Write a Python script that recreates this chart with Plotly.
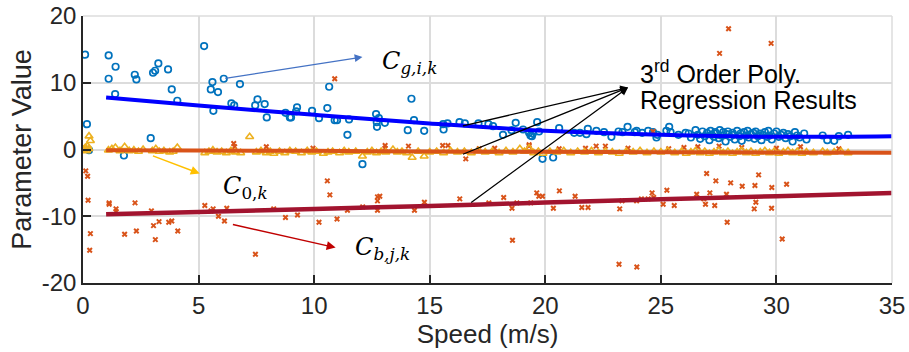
import plotly.graph_objects as go

# ---- C_g,i,k (blue circles) ----
g_x_a = [0.09, 0.17, 0.26, 1.11, 1.11, 1.41, 1.39, 2.24, 2.31, 3.26,
         3.03, 3.12, 3.68, 3.84, 4.08, 2.93, 1.77, 5.24, 6.09, 5.60,
         5.53, 5.84, 6.79, 5.64, 6.42, 6.54, 7.55, 7.45, 7.86, 7.95,
         8.76, 8.95, 9.00, 9.26, 9.22, 9.91, 10.21, 10.57, 10.65, 10.89,
         10.99, 11.51, 11.44, 12.68, 12.80, 12.71, 12.72, 13.06, 14.21, 14.32,
         14.05, 14.76, 12.09, 15.58, 15.77, 15.60, 16.29, 16.52, 17.11, 17.54,
         17.74, 18.17, 18.72, 18.54, 19.04, 19.30, 19.36, 19.42, 19.46, 19.65,
         19.73, 19.88, 20.34, 20.60, 21.25, 21.50, 21.78, 21.84, 22.21, 22.54,
         22.86, 23.17, 23.34, 23.56, 23.87, 23.95, 24.19, 24.45, 24.66, 24.81,
         24.85, 25.24, 25.36, 25.42, 25.76, 26.07]
g_y_a = [14.2, 3.8, -0.1, 14.1, 10.6, 12.4, 8.3, 11.2, 10.5, 12.9,
         11.5, 11.8, 12.0, 9.0, 7.3, 1.7, -0.9, 15.5, 10.6, 10.1,
         9.0, 8.6, 9.8, 5.8, 6.9, 6.6, 7.5, 6.6, 6.8, 4.8,
         5.5, 4.8, 4.8, 6.3, 5.7, 5.8, 4.7, 6.2, 9.4, 4.4,
         4.4, 4.5, 2.2, 5.3, 4.7, 4.1, 3.4, 4.0, 7.6, 4.4,
         2.9, 2.8, -2.2, 3.8, 3.9, 3.0, 4.1, 3.9, 3.9, 3.8,
         3.5, 2.2, 4.0, 2.9, 3.0, 2.5, 2.1, 2.0, 2.4, 4.1,
         2.7, -1.4, -1.2, 3.2, 2.5, 2.5, 2.3, 3.1, 2.8, 2.6,
         1.9, 2.7, 2.6, 3.4, 2.6, 2.8, 2.5, 2.8, 2.6, 1.8,
         2.2, 2.8, 3.4, 2.6, 2.2, 2.5]
g_x_b = [26.2, 26.3, 26.5, 26.6, 26.7, 26.8, 26.9, 27.0, 27.1, 27.15,
         27.2, 27.3, 27.35, 27.4, 27.5, 27.55, 27.6, 27.7, 27.8, 27.85,
         27.9, 28.0, 28.1, 28.15, 28.2, 28.3, 28.4, 28.45, 28.5, 28.6,
         28.7, 28.75, 28.8, 28.9, 29.0, 29.05, 29.1, 29.2, 29.3, 29.35,
         29.4, 29.5, 29.6, 29.65, 29.7, 29.8, 29.9, 30.0, 30.1, 30.2,
         30.3, 30.4, 30.5, 30.6, 30.7, 30.8, 30.9, 31.0, 31.2, 31.3,
         32.0, 32.2, 32.5, 32.7, 33.1]
g_y_b = [2.4, 1.8, 2.9, 2.2, 1.6, 2.7, 2.0, 2.5, 1.4, 2.8,
         2.2, 1.9, 2.6, 2.4, 1.7, 2.9, 2.1, 2.6, 1.2, 2.3,
         2.7, 1.9, 2.5, 2.2, 1.5, 2.8, 2.0, 2.4, 1.3, 2.6,
         2.1, 2.8, 1.8, 2.3, 2.5, 1.6, 2.7, 2.0, 2.4, 1.4,
         2.2, 2.6, 1.9, 2.8, 2.1, 1.5, 2.4, 2.7, 1.9, 2.2,
         2.5, 1.7, 2.3, 2.0, 1.2, 2.6, 2.1, 1.8, 2.4, 1.5,
         2.1, 1.4, 1.3, 2.0, 2.2]

# ---- C_b,j,k (red x markers) ----
b_x = [0.12, 0.20, 0.22, 0.32, 0.29, 1.13, 1.13, 1.43, 1.43, 1.80,
       2.25, 2.31, 2.96, 3.05, 3.29, 3.13, 3.71, 3.84, 4.10, 5.27,
       5.54, 5.63, 5.86, 6.12, 6.22, 7.46, 8.25, 8.76, 9.28, 10.57,
       10.68, 10.21, 10.99, 11.44, 12.10, 12.74, 12.84, 12.74, 12.74, 14.34,
       14.77, 16.30, 17.56, 18.20, 18.56, 18.77, 19.37, 19.63, 19.72, 19.88,
       18.58, 20.35, 20.61, 21.29, 21.58, 21.85, 23.22, 23.19, 23.96, 23.32,
       23.95, 24.16, 24.45, 24.62, 24.69, 25.10, 25.26, 25.58, 26.55, 26.86,
       26.93, 26.98, 27.12, 27.33, 27.38, 27.84, 27.87, 28.02, 28.52, 29.07,
       29.11, 29.04, 29.23, 29.80, 29.79, 30.25, 30.44, 27.93, 27.54, 29.77,
       10.89, 6.52, 6.56, 7.93, 9.95, 13.07, 14.08, 15.56, 15.79, 16.56,
       17.14, 17.81, 19.30, 19.30, 20.60, 21.74, 22.20, 22.60, 23.58, 24.66,
       25.34, 27.52, 31.04, 32.70, 0.10, 13.07, 26.0, 28.5, 30.0, 26.6]
b_y = [-3.2, -4.0, -7.6, -12.6, -15.1, -8.0, -8.2, -8.9, -9.3, -12.7,
       -8.0, -12.2, -9.2, -11.4, -10.8, -13.5, -10.9, -10.7, -12.2, -8.4,
       -9.2, -8.9, -10.0, -10.7, -8.8, -15.7, -8.9, -10.2, -9.8, -4.7,
       -6.8, -10.9, -10.4, -9.1, -8.6, -7.1, -7.0, -7.7, -9.1, -9.1,
       -7.9, -7.4, -8.0, -7.2, -8.8, -8.0, -8.0, -6.5, -7.0, -7.0,
       -13.6, -8.8, -6.2, -7.0, -8.7, -8.7, -8.9, -17.2, -17.6, -7.7,
       -7.7, -7.4, -7.4, -6.5, -7.2, -8.2, -6.1, -8.4, -6.7, -7.4,
       -8.2, -3.6, -6.5, -8.4, -4.7, -6.7, -10.9, -5.0, -5.5, -5.4,
       -7.9, -8.9, -3.8, -5.7, -8.8, -13.4, -5.2, 18.1, 14.4, 15.9,
       10.6, 0.9, 0.4, 0.4, 0.2, 0.2, 0.5, 0.6, 0.6, -1.4,
       0.1, 0.2, 0.7, 0.5, 0.1, 0.2, 0.5, 0.5, 0.2, 2.7,
       0.1, 0.5, 0.4, 0.1, 0.2, 0.6, 0.3, 0.3, 0.2, 0.4]

# ---- C_0,k (yellow triangles) ----
t_x = [0.05, 0.10, 0.15, 0.20, 0.26, 0.32, 0.25, 1.10, 1.25, 1.40,
       1.60, 1.80, 2.00, 2.20, 2.40, 2.60, 3.00, 3.15, 3.30, 3.50,
       3.75, 3.90, 4.08, 5.27, 5.45, 5.62, 5.80, 6.00, 6.20, 6.40,
       6.60, 6.82, 7.21, 7.50, 7.70, 7.93, 8.10, 8.26, 8.50, 8.73,
       8.95, 9.20, 9.45, 9.70, 9.90, 10.10, 10.40, 10.60, 10.80, 11.10,
       11.30, 11.50, 11.80, 12.09, 12.30, 12.50, 12.70, 12.90, 13.10, 13.41,
       13.60, 13.80, 14.00, 14.24, 14.50, 14.76, 15.00, 15.30, 15.60, 15.90,
       16.20, 16.50, 16.80, 17.10, 17.40, 17.70, 18.00, 18.30, 18.60, 18.90,
       19.10, 19.30, 19.50, 19.70, 19.90, 20.20, 20.50, 20.80, 21.10, 21.40,
       21.70, 22.00, 22.30, 22.60, 22.90, 23.20, 23.50, 23.80, 24.10, 24.40,
       24.70, 25.00, 25.30, 25.60, 25.90, 26.10, 26.30, 26.50, 26.70, 26.90,
       27.10, 27.30, 27.50, 27.70, 27.90, 28.10, 28.30, 28.50, 28.70, 28.90,
       29.10, 29.30, 29.50, 29.70, 29.90, 30.10, 30.30, 30.50, 30.70, 30.90,
       31.10, 31.30, 31.60, 32.00, 32.20, 32.50, 32.80, 33.10]
t_y = [0.0, 0.3, -0.2, 0.5, 2.0, 1.3, 0.1, -0.1, 0.1, 0.3,
       -0.2, 0.4, -0.2, -0.1, -0.3, 0.0, -0.2, 0.1, -0.3, -0.2,
       -0.4, -0.3, 0.3, -0.5, -0.3, -0.1, -0.4, -0.3, -0.5, -0.2,
       -0.4, -0.5, 1.9, -0.4, -0.2, -0.5, -0.3, -0.6, -0.3, -0.5,
       -0.2, -0.3, -0.5, -0.2, -0.4, -0.3, -0.6, -0.4, -0.3, -0.5,
       -0.2, -0.4, -0.3, -1.0, -0.4, -0.2, -0.5, -0.3, -0.4, 0.0,
       -0.4, -0.3, -0.5, -1.2, -0.3, -1.0, -0.4, -0.3, -0.5, -0.2,
       -0.4, -0.3, -0.5, -0.2, -0.4, -0.3, -0.5, -0.2, -0.4, 0.1,
       -0.3, 0.2, -0.5, -0.3, -0.6, -0.3, -0.4, -0.2, -0.5, -0.3,
       -0.4, -0.2, -0.5, -0.3, -0.4, -0.6, -0.3, -0.4, -0.2, -0.5,
       -0.3, -0.4, -0.2, -0.5, -0.3, -0.6, -0.4, -0.2, -0.5, -0.3,
       -0.6, -0.4, -0.2, -0.5, -0.3, -0.6, -0.4, -0.2, -0.5, -0.3,
       -0.6, -0.4, -0.2, -0.5, -0.3, -0.6, -0.4, -0.2, -0.5, -0.3,
       -0.6, -0.4, -0.5, -0.3, -0.5, -0.4, -0.3, -0.5]

# ---- 3rd order regression curves ----
fit_x = [1, 5, 10, 15, 20, 25, 30, 35]
fit_g = [7.8, 6.6, 5.2, 3.9, 2.8, 2.2, 1.9, 2.0]
fit_0 = [-0.1, -0.15, -0.2, -0.3, -0.35, -0.4, -0.45, -0.5]
fit_b = [-9.7, -9.35, -8.9, -8.45, -7.95, -7.45, -7.0, -6.5]

x_ticks = [0, 5, 10, 15, 20, 25, 30, 35]
y_ticks = [-20, -10, 0, 10, 20]

FONT = "Liberation Sans, Arial, sans-serif"
SERIF = "DejaVu Serif, Liberation Serif, serif"

fig = go.Figure()
fig.add_trace(go.Scatter(x=g_x_a + g_x_b, y=g_y_a + g_y_b, mode="markers",
                         marker=dict(symbol="circle-open", size=6.5, color="#0072BD",
                                     line=dict(width=1.7, color="#0072BD")),
                         showlegend=False))
fig.add_trace(go.Scatter(x=b_x, y=b_y, mode="markers",
                         marker=dict(symbol="x-thin-open", size=4.5, color="#D95319",
                                     line=dict(width=2, color="#D95319")),
                         showlegend=False))
fig.add_trace(go.Scatter(x=t_x, y=t_y, mode="markers",
                         marker=dict(symbol="triangle-up-open", size=7, color="#EDB120",
                                     line=dict(width=1.6, color="#EDB120")),
                         showlegend=False))
fig.add_trace(go.Scatter(x=fit_x, y=fit_g, mode="lines", line=dict(color="#0000FF", width=4, shape="spline"),
                         showlegend=False))
fig.add_trace(go.Scatter(x=fit_x, y=fit_0, mode="lines", line=dict(color="#D95319", width=4, shape="spline"),
                         showlegend=False))
fig.add_trace(go.Scatter(x=fit_x, y=fit_b, mode="lines", line=dict(color="#A2142F", width=4.5, shape="spline"),
                         showlegend=False))

# arrows
def arrow(hx, hy, tx, ty, color, width=1.4, size=1.2):
    fig.add_annotation(x=hx, y=hy, ax=tx, ay=ty, xref="x", yref="y", axref="x", ayref="y",
                       text="", showarrow=True, arrowhead=2, arrowsize=size,
                       arrowwidth=width, arrowcolor=color)

arrow(12.09, 13.86, 6.09, 10.62, "#4472C4", 1.3)
arrow(5.05, -3.61, 2.96, -0.87, "#FFC000", 1.5)
arrow(10.93, -14.7, 6.42, -11.2, "#C00000", 1.5)
arrow(23.58, 9.27, 16.37, 3.48, "#000000", 1.3)
arrow(23.58, 9.27, 16.37, -0.8, "#000000", 1.3)
arrow(23.58, 9.27, 16.73, -8.1, "#000000", 1.3)

fig.add_annotation(x=12.85, y=13.0, xref="x", yref="y", xanchor="left", yanchor="middle",
                   showarrow=False, text="<i>C</i><sub><i>g,i,k</i></sub>",
                   font=dict(family=SERIF, size=24, color="#000000"))
fig.add_annotation(x=5.95, y=-5.66, xref="x", yref="y", xanchor="left", yanchor="middle",
                   showarrow=False, text="<i>C</i><sub>0,<i>k</i></sub>",
                   font=dict(family=SERIF, size=24, color="#000000"))
fig.add_annotation(x=11.7, y=-14.8, xref="x", yref="y", xanchor="left", yanchor="middle",
                   showarrow=False, text="<i>C</i><sub><i>b,j,k</i></sub>",
                   font=dict(family=SERIF, size=24, color="#000000"))
fig.add_annotation(x=24.0, y=11.6, xref="x", yref="y", xanchor="left", yanchor="middle",
                   align="left", showarrow=False,
                   text="3<sup>rd</sup> Order Poly.",
                   font=dict(family=FONT, size=25, color="#000000"))
fig.add_annotation(x=24.0, y=7.35, xref="x", yref="y", xanchor="left", yanchor="middle",
                   align="left", showarrow=False,
                   text="Regression Results",
                   font=dict(family=FONT, size=25, color="#000000"))

# light box on top/right
fig.add_shape(type="line", xref="paper", yref="paper", x0=0, x1=1, y0=1, y1=1,
              line=dict(color="#DCDCDC", width=1.5))
fig.add_shape(type="line", xref="paper", yref="paper", x0=1, x1=1, y0=0, y1=1,
              line=dict(color="#DCDCDC", width=1.5))

fig.update_xaxes(range=[0, 35], tickvals=x_ticks, ticktext=[str(v) for v in x_ticks],
                 automargin=False,
                 showgrid=True, gridcolor="#DCDCDC", gridwidth=1.5, zeroline=False,
                 showline=True, linecolor="#262626", linewidth=1.5,
                 ticks="inside", ticklen=8, tickwidth=1.5, tickcolor="#262626",
                 tickfont=dict(family=FONT, size=24, color="#262626"),
                 title=dict(text="Speed (m/s)", font=dict(family=FONT, size=26, color="#262626"),
                            standoff=7))
fig.update_yaxes(range=[-20, 20], tickvals=y_ticks, ticktext=[str(v) for v in y_ticks],
                 automargin=False,
                 showgrid=True, gridcolor="#DCDCDC", gridwidth=1.5, zeroline=False,
                 showline=True, linecolor="#262626", linewidth=1.5,
                 ticks="inside", ticklen=8, tickwidth=1.5, tickcolor="#262626",
                 tickfont=dict(family=FONT, size=24, color="#262626"),
                 title=dict(text="Parameter Value", font=dict(family=FONT, size=27, color="#262626"),
                            standoff=2))

fig.update_layout(width=909, height=352, margin=dict(l=83, r=17, t=16, b=69),
                  plot_bgcolor="#FFFFFF", paper_bgcolor="#FFFFFF")

fig.write_html("out.html")
